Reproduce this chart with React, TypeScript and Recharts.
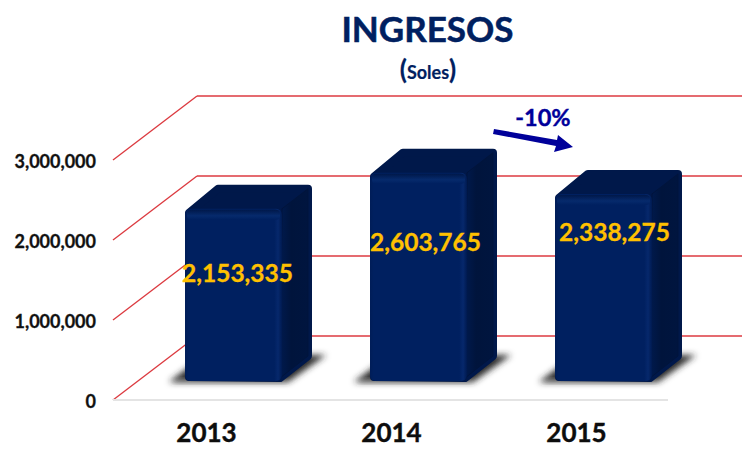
import React from "react";
import { BarChart, Bar, XAxis, YAxis, CartesianGrid, LabelList } from "recharts";

const years = ["2013", "2014", "2015"];
const ingresos = [2153335, 2603765, 2338275];
const yTicks = [0, 1000000, 2000000, 3000000];

const data = years.map((year, i) => ({ year, ingresos: ingresos[i] }));

// fake 3D: how far the bars and the back wall are pushed
const BAR_DX = 28;
const BAR_DY = -19;
const DEPTH_X = 30;
const DEPTH_Y = 24;
const WALL_DX = 84;
const WALL_DY = -64;
const RED = "#dc3a40";
const FONT = "Lato, Carlito, 'Open Sans', sans-serif";

// hand placed like in the slide, the labels are not centred on the bars
const labelNudge = [
  { dx: 4, dy: 64 },
  { dx: 7, dy: 69 },
  { dx: 11, dy: 38 },
];

function wallLine(props: any) {
  const { x1, y1 } = props;
  const wx = x1 + WALL_DX;
  const wy = y1 + WALL_DY;
  return (
    <g key={y1}>
      <line x1={x1} y1={y1} x2={wx} y2={wy} stroke={RED} strokeWidth={1.4} />
      <line x1={wx} y1={wy} x2={742} y2={wy} stroke={RED} strokeWidth={1.6} />
    </g>
  );
}

function Box3D(props: any) {
  const { x: bx, y: by, width: w, height: h } = props;
  const x = bx + BAR_DX;
  const y = by + BAR_DY;
  const b = y + h;
  const outline = [
    [x + 4, y + 4],
    [x + DEPTH_X + 3, y - DEPTH_Y + 4],
    [x + w + DEPTH_X - 4, y - DEPTH_Y + 4],
    [x + w + DEPTH_X - 4, b - DEPTH_Y - 1],
    [x + w - 2, b - 3],
    [x + 4, b - 4],
  ];
  const side = [
    [x + w, y],
    [x + w + DEPTH_X - 4, y - DEPTH_Y + 4],
    [x + w + DEPTH_X - 4, b - DEPTH_Y - 1],
    [x + w - 2, b - 3],
  ];
  const shadow = [
    [x - 16, b + 1],
    [x + 4, b - 14],
    [x + w + DEPTH_X, b - DEPTH_Y - 2],
    [x + w + DEPTH_X + 14, b - DEPTH_Y - 2],
    [x + w + 6, b + 1],
  ];
  const pts = (p: number[][]) => p.map((q) => q.join(",")).join(" ");
  return (
    <g>
      <polygon points={pts(shadow)} fill="#2a2a2a" filter="url(#floorBlur)" />
      <rect x={x - 10} y={b - 2} width={w + 14} height={4} fill="#8a8a8a" opacity={0.55} filter="url(#floorBlur)" />
      <polygon points={pts(outline)} fill="#00184a" stroke="#00184a" strokeWidth={8} strokeLinejoin="round" />
      <polygon points={pts(side)} fill="url(#sideFill)" stroke="#00143c" strokeWidth={1} strokeLinejoin="round" />
      <rect x={x} y={y} width={w} height={h} rx={6} fill="url(#frontFill)" />
      <rect x={x + 2} y={y + 1} width={w - 4} height={10} rx={4} fill="url(#frontTop)" />
    </g>
  );
}

function ValueLabel(props: any) {
  const { x, y, width, value, index } = props;
  const n = labelNudge[index];
  return (
    <text
      x={x + width / 2 + BAR_DX + n.dx}
      y={y + BAR_DY + n.dy}
      textAnchor="middle"
      dominantBaseline="central"
      fill="#ffc000"
      stroke="#ffc000"
      strokeWidth={0.3}
      fontFamily={FONT}
      fontWeight={700}
      fontSize={24.5}
    >
      {Number(value).toLocaleString("en-US")}
    </text>
  );
}

export default function App() {
  return (
    <div style={{ position: "absolute", left: 0, top: 0, background: "#fff" }}>
      <BarChart
        width={742}
        height={450}
        data={data}
        margin={{ top: 160, right: 74, bottom: 0, left: 0 }}
      >
        <defs>
          <filter id="floorBlur" x="-20%" y="-50%" width="140%" height="200%">
            <feGaussianBlur stdDeviation="3" />
          </filter>
          <linearGradient id="frontFill" x1="0" y1="0" x2="1" y2="0">
            <stop offset="0" stopColor="#001d58" />
            <stop offset="0.04" stopColor="#002060" />
            <stop offset="0.92" stopColor="#002060" />
            <stop offset="0.96" stopColor="#06286c" />
            <stop offset="1" stopColor="#001a50" />
          </linearGradient>
          <linearGradient id="frontTop" x1="0" y1="0" x2="0" y2="1">
            <stop offset="0" stopColor="#00184a" />
            <stop offset="0.6" stopColor="#062a6c" />
            <stop offset="1" stopColor="#002060" />
          </linearGradient>
          <linearGradient id="sideFill" x1="0" y1="0" x2="1" y2="0">
            <stop offset="0" stopColor="#001a4e" />
            <stop offset="0.4" stopColor="#00143c" />
            <stop offset="1" stopColor="#00153f" />
          </linearGradient>
        </defs>
        <CartesianGrid horizontal={wallLine} vertical={false} />
        <XAxis
          dataKey="year"
          height={50}
          axisLine={{ stroke: "#e4e4e4", strokeWidth: 2 }}
          tickLine={false}
          tickMargin={18}
          tick={{ dx: 1, fill: "#0d0d0d", stroke: "#0d0d0d", strokeWidth: 0.4, fontFamily: FONT, fontWeight: 700, fontSize: 26 }}
        />
        <YAxis
          width={113}
          domain={[0, 3000000]}
          ticks={yTicks}
          axisLine={false}
          tickLine={false}
          tickSize={0}
          tickMargin={17}
          tick={{ dy: 2, fill: "#111", stroke: "#111", strokeWidth: 0.3, fontFamily: FONT, fontWeight: 700, fontSize: 18 }}
          tickFormatter={(v: number) => v.toLocaleString("en-US")}
        />
        <Bar dataKey="ingresos" barSize={97} shape={<Box3D />} isAnimationActive={false}>
          <LabelList dataKey="ingresos" content={<ValueLabel />} />
        </Bar>
        <text x={427.5} y={42} textAnchor="middle" fill="#002060" stroke="#002060" strokeWidth={0.5} fontFamily={FONT} fontWeight={700} fontSize={35}>
          INGRESOS
        </text>
        <text x={428} y={79} textAnchor="middle" fill="#002060" stroke="#002060" strokeWidth={0.2} fontFamily={FONT} fontWeight={700} fontSize={18}>
          <tspan fontSize={26}>(</tspan>
          Soles
          <tspan fontSize={26}>)</tspan>
        </text>
        <text x={543} y={126} textAnchor="middle" fill="#00009a" stroke="#00009a" strokeWidth={0.4} fontFamily={FONT} fontWeight={700} fontSize={23.5}>
          -10%
        </text>
        <polygon
          points="494,129 557,140 558,135 573,147 554,152 556,146 493,134"
          fill="#00009a"
        />
      </BarChart>
    </div>
  );
}
